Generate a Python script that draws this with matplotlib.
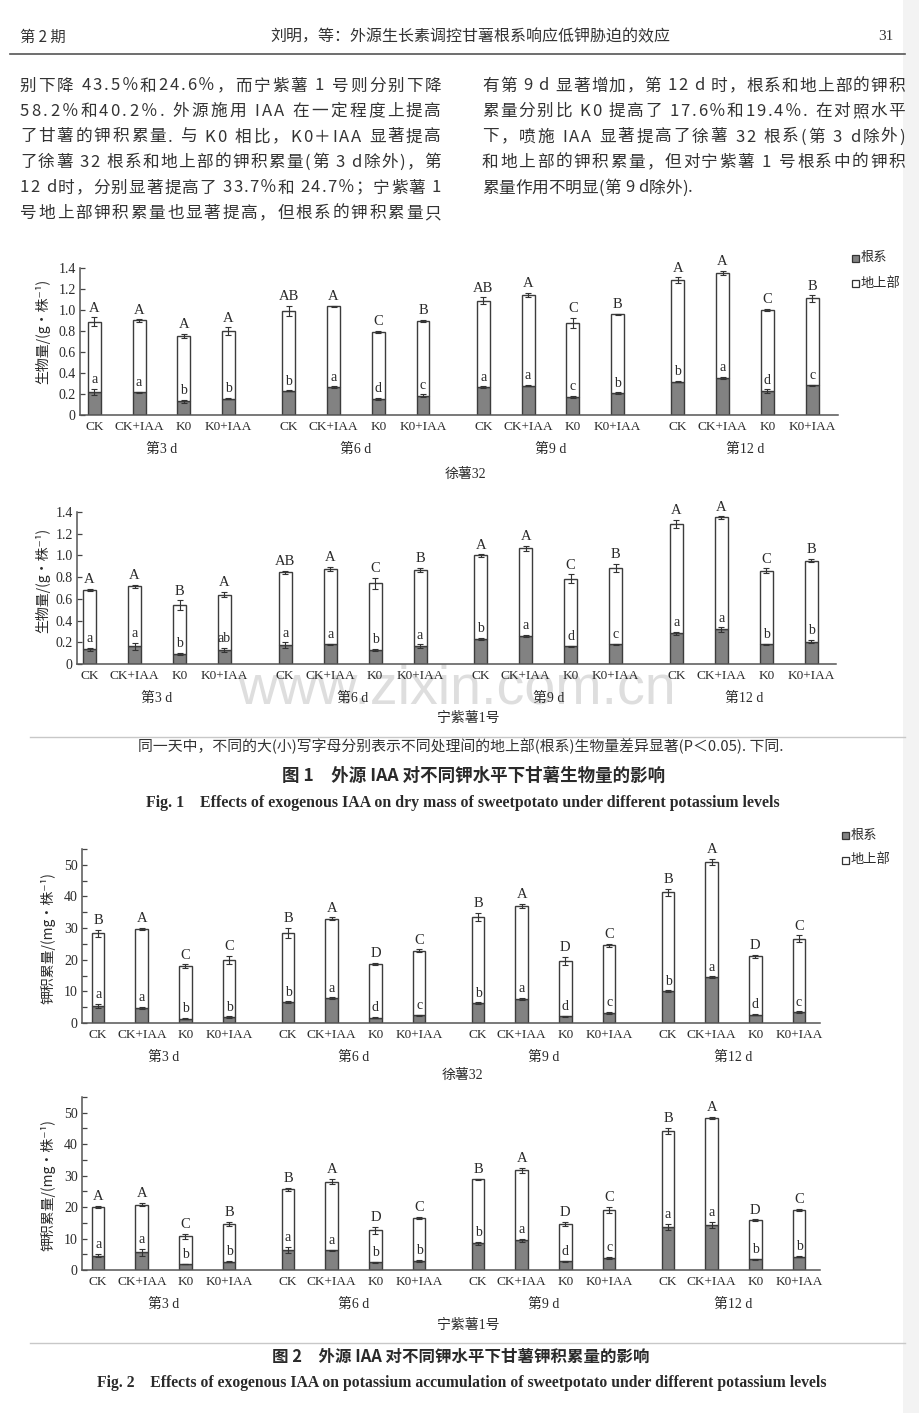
import matplotlib
matplotlib.use('Agg')
import matplotlib.pyplot as plt
from matplotlib.patches import Rectangle
from matplotlib.lines import Line2D

W, H = 920, 1413
INK = '#2a2a2a'
CJK = ['Noto Sans CJK SC', 'DejaVu Sans']
SERIF = ['Liberation Serif', 'Noto Sans CJK SC', 'DejaVu Sans']

# ---- data ----
treatments = ['CK', 'CK+IAA', 'K0', 'K0+IAA']
days = ['第3 d', '第6 d', '第9 d', '第12 d']

# Fig.1 biomass (g/plant), 徐薯32
bio32_total = [0.89, 0.90, 0.75, 0.80, 0.99, 1.035, 0.79, 0.895, 1.09, 1.14, 0.875, 0.96, 1.285, 1.35, 1.00, 1.11]
bio32_total_err = [0.04, 0.01, 0.02, 0.035, 0.05, 0.007, 0.01, 0.01, 0.03, 0.02, 0.047, 0.005, 0.025, 0.02, 0.012, 0.03]
bio32_root = [0.22, 0.215, 0.13, 0.155, 0.23, 0.263, 0.155, 0.185, 0.266, 0.279, 0.171, 0.209, 0.317, 0.35, 0.228, 0.282]
bio32_root_err = [0.025, 0.008, 0.015, 0.006, 0.005, 0.01, 0.01, 0.012, 0.006, 0.005, 0.008, 0.006, 0.006, 0.01, 0.015, 0.008]
bio32_upper = ['A', 'A', 'A', 'A', 'AB', 'A', 'C', 'B', 'AB', 'A', 'C', 'B', 'A', 'A', 'C', 'B']
bio32_lower = ['a', 'a', 'b', 'b', 'b', 'a', 'd', 'c', 'a', 'a', 'c', 'b', 'b', 'a', 'd', 'c']

# Fig.1 biomass (g/plant), 宁紫薯1号
bio1_total = [0.68, 0.715, 0.54, 0.64, 0.845, 0.875, 0.745, 0.865, 1.0, 1.065, 0.785, 0.885, 1.29, 1.35, 0.86, 0.95]
bio1_total_err = [0.01, 0.015, 0.045, 0.025, 0.015, 0.02, 0.05, 0.02, 0.01, 0.025, 0.04, 0.04, 0.035, 0.01, 0.02, 0.015]
bio1_root = [0.135, 0.162, 0.092, 0.13, 0.174, 0.183, 0.13, 0.165, 0.23, 0.26, 0.162, 0.183, 0.284, 0.318, 0.18, 0.205]
bio1_root_err = [0.015, 0.03, 0.01, 0.015, 0.025, 0.005, 0.008, 0.015, 0.008, 0.01, 0.005, 0.005, 0.015, 0.02, 0.004, 0.015]
bio1_upper = ['A', 'A', 'B', 'A', 'AB', 'A', 'C', 'B', 'A', 'A', 'C', 'B', 'A', 'A', 'C', 'B']
bio1_lower = ['a', 'a', 'b', 'ab', 'a', 'a', 'b', 'a', 'b', 'a', 'd', 'c', 'a', 'a', 'b', 'b']

# Fig.2 potassium accumulation (mg/plant), 徐薯32
k32_total = [28.3, 29.7, 18.0, 19.9, 28.5, 33.0, 18.7, 22.8, 33.5, 37.1, 19.6, 24.5, 41.3, 51.0, 21.1, 26.7]
k32_total_err = [1.2, 0.4, 0.5, 1.2, 1.5, 0.4, 0.3, 0.5, 1.2, 0.6, 1.3, 0.4, 1.0, 0.9, 0.4, 1.0]
k32_root = [5.3, 4.8, 1.4, 1.9, 6.6, 7.8, 1.7, 2.4, 6.3, 7.7, 2.1, 3.2, 10.1, 14.4, 2.6, 3.4]
k32_root_err = [0.7, 0.3, 0.2, 0.2, 0.2, 0.3, 0.2, 0.2, 0.2, 0.3, 0.2, 0.2, 0.2, 0.3, 0.2, 0.3]
k32_upper = ['B', 'A', 'C', 'C', 'B', 'A', 'D', 'C', 'B', 'A', 'D', 'C', 'B', 'A', 'D', 'C']
k32_lower = ['a', 'a', 'b', 'b', 'b', 'a', 'd', 'c', 'b', 'a', 'd', 'c', 'b', 'a', 'd', 'c']

# Fig.2 potassium accumulation (mg/plant), 宁紫薯1号
k1_total = [20.0, 20.8, 10.7, 14.6, 25.6, 28.1, 12.6, 16.5, 28.8, 31.7, 14.7, 19.0, 44.2, 48.3, 15.8, 19.1]
k1_total_err = [0.3, 0.6, 0.9, 0.6, 0.6, 0.8, 1.0, 0.4, 0.2, 0.8, 0.7, 1.0, 1.0, 0.3, 0.3, 0.3]
k1_root = [4.6, 5.6, 1.9, 2.7, 6.3, 6.2, 2.5, 2.9, 8.5, 9.4, 2.8, 3.8, 13.7, 14.4, 3.4, 4.2]
k1_root_err = [0.6, 1.2, 0.1, 0.3, 1.0, 0.3, 0.2, 0.2, 0.4, 0.4, 0.1, 0.3, 1.0, 1.0, 0.1, 0.2]
k1_upper = ['A', 'A', 'C', 'B', 'B', 'A', 'D', 'C', 'B', 'A', 'D', 'C', 'B', 'A', 'D', 'C']
k1_lower = ['a', 'a', 'b', 'b', 'a', 'a', 'b', 'b', 'b', 'a', 'd', 'c', 'a', 'a', 'b', 'b']

bio_ticks = [0, 0.2, 0.4, 0.6, 0.8, 1.0, 1.2, 1.4]
bio_ticklabels = ['0', '0.2', '0.4', '0.6', '0.8', '1.0', '1.2', '1.4']
k_ticks = [0, 10, 20, 30, 40, 50]

body_left = [
    '别下降 43.5％和24.6％，而宁紫薯 1 号则分别下降',
    '58.2％和40.2％. 外源施用 IAA 在一定程度上提高',
    '了甘薯的钾积累量. 与 K0 相比，K0＋IAA 显著提高',
    '了徐薯 32 根系和地上部的钾积累量(第 3 d除外)，第',
    '12 d时，分别显著提高了 33.7％和 24.7％；宁紫薯 1',
    '号地上部钾积累量也显著提高，但根系的钾积累量只',
]
body_right = [
    '有第 9 d 显著增加，第 12 d 时，根系和地上部的钾积',
    '累量分别比 K0 提高了 17.6％和19.4％. 在对照水平',
    '下，喷施 IAA 显著提高了徐薯 32 根系(第 3 d除外)',
    '和地上部的钾积累量，但对宁紫薯 1 号根系中的钾积',
    '累量作用不明显(第 9 d除外).',
]

fig = plt.figure(figsize=(W / 100, H / 100), dpi=100)
fig.patch.set_facecolor('white')
renderer = fig.canvas.get_renderer()


def fx(x):
    return x / W


def fy(y):
    return 1 - y / H


def txt(x, y, s, size=10, family=CJK, ha='center', va='center', **kw):
    kw.setdefault('color', INK)
    return fig.text(fx(x), fy(y), s, fontsize=size, family=family, ha=ha, va=va, **kw)


def fit(x0, x1, y, s, size, **kw):
    # draw centred text and rescale so it spans x0..x1
    t = txt((x0 + x1) / 2, y, s, size=size, **kw)
    w = t.get_window_extent(renderer).width
    t.set_fontsize(size * (x1 - x0) / w)
    return t


def justify(x0, x1, y, s, size, full=True):
    em = size * 100 / 72
    parts = []
    for ch in s:
        if ch == ' ':
            parts.append((None, em * 0.25))
            continue
        t = txt(x0, y, ch, size=size, ha='left', color='#333333')
        parts.append((t, t.get_window_extent(renderer).width))
    total = sum(w for _, w in parts)
    gap = (x1 - x0 - total) / (len(parts) - 1) if full else 0.0
    x = x0
    for t, w in parts:
        if t is not None:
            t.set_x(fx(x))
        x += w + gap


def hline(x0, x1, y, color, lw):
    fig.add_artist(Line2D([fx(x0), fx(x1)], [fy(y), fy(y)], color=color, lw=lw,
                          transform=fig.transFigure))


def legend_box(x, y, label, fill):
    fig.add_artist(Rectangle((fx(x), fy(y + 3.5)), 7 / W, 7 / H, facecolor=fill,
                             edgecolor='#333333', lw=0.9, transform=fig.transFigure))
    txt(x + 9, y, label, size=9.5, ha='left')


def panel(rect, xlim, ylim, total, total_err, root, root_err, upper, lower,
          ticks, ticklabels=None, minor=None):
    left, right, y0, top = rect
    ax = fig.add_axes([fx(left), fy(y0), (right - left) / W, (y0 - top) / H])
    ax.patch.set_visible(False)
    pos = [g * 4.35 + i for g in range(4) for i in range(4)]
    shoot = [t - r for t, r in zip(total, root)]
    ax.bar(pos, root, width=0.29, color='#828282', edgecolor='#3c3c3c', lw=1.0, zorder=2)
    ax.bar(pos, shoot, bottom=root, width=0.29, color='white', edgecolor='#3c3c3c', lw=1.0, zorder=2)
    ax.errorbar(pos, root, yerr=root_err, fmt='none', ecolor='#333333', elinewidth=0.8,
                capsize=2, capthick=0.8, zorder=3)
    ax.errorbar(pos, total, yerr=total_err, fmt='none', ecolor='#333333', elinewidth=0.8,
                capsize=2, capthick=0.8, zorder=3)
    for p, t, e, s in zip(pos, total, total_err, upper):
        ax.annotate(s, (p, t + e), xytext=(0, 2), textcoords='offset points', ha='center',
                    va='bottom', fontsize=10.5, family=SERIF, color=INK)
    for p, r, e, s in zip(pos, root, root_err, lower):
        ax.annotate(s, (p, r + e), xytext=(0, 2), textcoords='offset points', ha='center',
                    va='bottom', fontsize=10, family=SERIF, color=INK)
    ax.set_xlim(*xlim)
    ax.set_ylim(*ylim)
    ax.set_xticks(pos)
    ax.set_xticklabels(treatments * 4, fontsize=9.5, family=SERIF, color=INK)
    ax.set_yticks(ticks)
    ax.set_yticklabels(ticklabels if ticklabels else [str(t) for t in ticks],
                       fontsize=10, family=SERIF, color=INK)
    if minor:
        ax.set_yticks(minor, minor=True)
    ax.tick_params(axis='x', length=0, pad=4)
    ax.tick_params(axis='y', which='both', direction='in', length=3.5, width=0.9,
                   color='#444444', pad=3)
    for side in ['top', 'right']:
        ax.spines[side].set_visible(False)
    for side in ['left', 'bottom']:
        ax.spines[side].set_color('#555555')
        ax.spines[side].set_linewidth(1.1)
    for g, d in enumerate(days):
        ax.annotate(d, (g * 4.35 + 1.5, 0), xycoords=('data', 'axes fraction'),
                    xytext=(0, -25), textcoords='offset points', ha='center', va='center',
                    fontsize=10, family=SERIF, color=INK)
    return ax


# ---- watermark (behind everything) ----
txt(237, 690, 'www.zixin.com.cn', size=40, family=['Liberation Sans'], ha='left',
    color='#dedede', zorder=-5)

# ---- page header ----
txt(20, 37, '第 2 期', size=11, ha='left', color='#333333')
txt(470, 37, '刘明，等：外源生长素调控甘薯根系响应低钾胁迫的效应', size=11.5, color='#333333')
txt(893, 37, '31', size=11, family=SERIF, ha='right', color='#333333')
hline(10, 905, 54, '#555555', 1.2)

# ---- body text ----
for i, line in enumerate(body_left):
    justify(20, 441, 86 + 25.5 * i, line, 12)
for i, line in enumerate(body_right):
    justify(482, 905, 86 + 25.5 * i, line, 12, full=i < len(body_right) - 1)

# ---- Fig.1 ----
panel((80, 838, 415, 268), (-0.32, 16.63), (0, 1.4), bio32_total, bio32_total_err,
      bio32_root, bio32_root_err, bio32_upper, bio32_lower, bio_ticks, bio_ticklabels)
panel((77, 836, 664, 512), (-0.28, 16.6), (0, 1.4), bio1_total, bio1_total_err,
      bio1_root, bio1_root_err, bio1_upper, bio1_lower, bio_ticks, bio_ticklabels)
txt(43, 331, '生物量/(g·株⁻¹)', size=10, rotation=90)
txt(43, 580, '生物量/(g·株⁻¹)', size=10, rotation=90)
legend_box(852, 258, '根系', '#828282')
legend_box(852, 283, '地上部', 'white')
txt(465, 474, '徐薯32', size=10, family=SERIF)
txt(468, 718, '宁紫薯1号', size=10, family=SERIF)

hline(30, 905, 737, '#c8c8c8', 1.0)
fit(137, 785, 745, '同一天中，不同的大(小)写字母分别表示不同处理间的地上部(根系)生物量差异显著(P＜0.05). 下同.',
    9.5, color='#333333')
fit(282, 666, 776, '图 1　外源 IAA 对不同钾水平下甘薯生物量的影响', 11.5, weight='bold')
fit(146, 779, 803, 'Fig. 1　Effects of exogenous IAA on dry mass of sweetpotato under different potassium levels',
    10.5, family=SERIF, weight='bold')

# ---- Fig.2 ----
panel((82, 820, 1023, 849), (-0.37, 16.53), (0, 55), k32_total, k32_total_err,
      k32_root, k32_root_err, k32_upper, k32_lower, k_ticks, minor=list(range(5, 60, 10)))
panel((82, 820, 1270, 1097), (-0.37, 16.53), (0, 55), k1_total, k1_total_err,
      k1_root, k1_root_err, k1_upper, k1_lower, k_ticks, minor=list(range(5, 60, 10)))
txt(48, 938, '钾积累量/(mg·株⁻¹)', size=10, rotation=90)
txt(48, 1185, '钾积累量/(mg·株⁻¹)', size=10, rotation=90)
legend_box(842, 835, '根系', '#828282')
legend_box(842, 860, '地上部', 'white')
txt(462, 1075, '徐薯32', size=10, family=SERIF)
txt(468, 1325, '宁紫薯1号', size=10, family=SERIF)

hline(30, 905, 1343, '#c8c8c8', 1.0)
fit(272, 650, 1357, '图 2　外源 IAA 对不同钾水平下甘薯钾积累量的影响', 11.5, weight='bold')
fit(97, 827, 1383, 'Fig. 2　Effects of exogenous IAA on potassium accumulation of sweetpotato under different potassium levels',
    10.5, family=SERIF, weight='bold')

# faint scanner edge on the right
fig.add_artist(Rectangle((fx(903), 0), 17 / W, 1, facecolor='#f3f3f3', edgecolor='none',
                         transform=fig.transFigure, zorder=-10))

fig.savefig('out.png', dpi=100, facecolor='white')
